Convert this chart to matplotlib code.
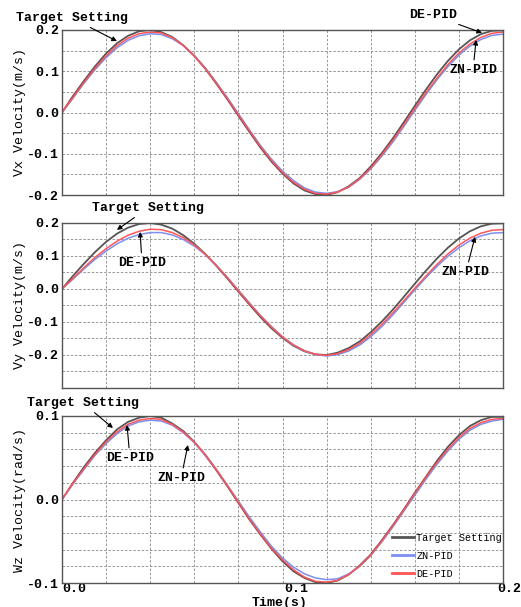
import matplotlib
matplotlib.use('Agg')
from matplotlib import pyplot as plt
from matplotlib.ticker import MultipleLocator, FixedLocator, FormatStrFormatter
from matplotlib.transforms import ScaledTranslation

# time axis, sampled every 5 ms
t = [i * 0.005 for i in range(41)]

# Vx velocity (m/s)
vx_target = [0, .040, .077, .112, .143, .168, .186, .197, .200, .195, .183, .163, .137, .106, .070, .032,
             -.008, -.047, -.085, -.119, -.148, -.172, -.189, -.198, -.200, -.193, -.179, -.159, -.131,
             -.099, -.063, -.024, .016, .055, .092, .125, .153, .175, .190, .198, .199]
vx_de = [0, .036, .073, .107, .137, .162, .180, .191, .195, .193, .182, .163, .138, .107, .072, .034,
         -.005, -.044, -.082, -.116, -.145, -.169, -.186, -.196, -.198, -.193, -.181, -.161, -.135,
         -.103, -.068, -.030, .009, .047, .083, .116, .144, .166, .182, .192, .195]
vx_zn = [0, .035, .071, .104, .133, .157, .175, .186, .191, .189, .179, .162, .138, .108, .073, .036,
         -.003, -.042, -.080, -.113, -.142, -.165, -.183, -.193, -.196, -.192, -.181, -.162, -.137,
         -.106, -.072, -.034, .005, .043, .079, .111, .139, .161, .177, .187, .190]

# Vy velocity (m/s)
vy_target = [0, .040, .077, .112, .143, .168, .186, .197, .200, .195, .183, .163, .137, .106, .070, .032,
             -.008, -.047, -.085, -.119, -.148, -.172, -.189, -.198, -.200, -.193, -.179, -.159, -.131,
             -.099, -.063, -.024, .016, .055, .092, .125, .153, .175, .190, .198, .199]
vy_de = [0, .032, .065, .096, .122, .145, .163, .175, .181, .180, .171, .156, .134, .106, .072, .035,
         -.005, -.044, -.081, -.115, -.145, -.169, -.187, -.198, -.201, -.196, -.184, -.165, -.139,
         -.108, -.073, -.036, .002, .039, .074, .106, .133, .154, .169, .178, .180]
vy_zn = [0, .030, .061, .090, .115, .137, .154, .165, .171, .171, .164, .150, .130, .104, .071, .035,
         -.004, -.042, -.080, -.114, -.145, -.170, -.188, -.199, -.203, -.199, -.188, -.170, -.145,
         -.114, -.079, -.041, -.003, .034, .068, .099, .125, .146, .161, .169, .171]

# Wz velocity (rad/s)
wz_target = [0, .020, .039, .056, .071, .084, .093, .098, .100, .098, .091, .082, .069, .053, .035, .016,
             -.004, -.024, -.042, -.059, -.074, -.086, -.094, -.099, -.100, -.097, -.090, -.079, -.066,
             -.049, -.031, -.012, .008, .027, .046, .063, .077, .088, .095, .099, .099]
wz_de = [0, .019, .037, .054, .069, .081, .090, .095, .097, .096, .090, .081, .069, .054, .036, .017,
         -.003, -.023, -.041, -.058, -.072, -.084, -.093, -.098, -.099, -.097, -.090, -.080, -.067,
         -.050, -.032, -.013, .007, .026, .044, .060, .074, .085, .092, .096, .097]
wz_zn = [0, .019, .036, .053, .067, .079, .088, .093, .095, .094, .089, .080, .068, .053, .036, .017,
         -.002, -.021, -.039, -.056, -.070, -.081, -.089, -.094, -.096, -.095, -.089, -.080, -.067,
         -.051, -.033, -.014, .005, .024, .042, .058, .072, .083, .090, .094, .096]

labels = ['Target Setting', 'ZN-PID', 'DE-PID']
ylabels = ['Vx Velocity(m/s)', 'Vy Velocity(m/s)', 'Wz Velocity(rad/s)']
xticks = [0.0, 0.1, 0.2]
xtick_labels = ['0.0', '0.1', '0.2']
yticks = [[-0.2, -0.1, 0.0, 0.1, 0.2], [-0.2, -0.1, 0.0, 0.1, 0.2], [-0.1, 0.0, 0.1]]

FONT = 'Liberation Mono'
FS = 9.5
C_T, C_ZN, C_DE = '#555555', '#7d8ff0', '#ff5555'

plt.rcParams['font.family'] = FONT
plt.rcParams['font.size'] = FS
plt.rcParams['font.weight'] = 'bold'

fig = plt.figure(figsize=(5.21, 6.07), dpi=100)
W, H = 521.0, 607.0


def make_ax(top_px, bot_px):
    return fig.add_axes([62 / W, 1 - bot_px / H, 441 / W, (bot_px - top_px) / H])


axes = [make_ax(30, 195), make_ax(223, 388), make_ax(416, 583)]
series = [(vx_target, vx_zn, vx_de), (vy_target, vy_zn, vy_de), (wz_target, wz_zn, wz_de)]
ylims = [(-0.2, 0.2), (-0.3, 0.2), (-0.1, 0.1)]
yminor = [0.05, 0.05, 0.02]

for ax, (yt, yz, yd), yl, lim, tks, mn in zip(axes, series, ylabels, ylims, yticks, yminor):
    ax.plot(t, yt, color=C_T, lw=1.3, label=labels[0])
    ax.plot(t, yz, color=C_ZN, lw=1.1, label=labels[1])
    ax.plot(t, yd, color=C_DE, lw=1.1, label=labels[2])
    ax.set_xlim(0, 0.2)
    ax.set_ylim(*lim)
    ax.xaxis.set_major_locator(FixedLocator(xticks))
    ax.xaxis.set_minor_locator(MultipleLocator(0.02))
    ax.yaxis.set_major_locator(FixedLocator(tks))
    ax.yaxis.set_minor_locator(MultipleLocator(mn))
    ax.grid(True, which='both', color='#888888', ls=(0, (3, 2)), lw=0.6)
    ax.tick_params(which='both', direction='in', length=0, pad=2, labelsize=FS)
    ax.yaxis.set_major_formatter(FormatStrFormatter('%.1f'))
    ax.set_ylabel(yl, fontsize=FS)
    ax.yaxis.set_label_coords(-0.082, 0.5)
    for s in ax.spines.values():
        s.set_color('#555555')
        s.set_linewidth(1.0)
    ax.set_xticklabels([])

# x tick labels only on bottom panel
axb = axes[2]
axb.set_xticks(xticks)
axb.set_xticklabels(xtick_labels)
axb.tick_params(axis='x', pad=0)
offsets = [12, 14, 6]
for lab, dx in zip(axb.get_xticklabels(), offsets):
    lab.set_transform(lab.get_transform() + ScaledTranslation(dx / 100, 0, fig.dpi_scale_trans))
fig.text(280 / W, 1 - 597 / H, 'Time(s)', ha='center', va='top', fontsize=FS)

arrow = dict(arrowstyle='-|>', color='black', lw=0.8, mutation_scale=7, shrinkA=1, shrinkB=0)


def note(ax, txt, tip, pos):
    ax.annotate(txt, xy=tip, xytext=pos, ha='center', va='center', fontsize=FS,
                arrowprops=arrow, annotation_clip=False)


note(axes[0], 'Target Setting', (0.0249, 0.173), (0.0045, 0.229))
note(axes[0], 'DE-PID', (0.1905, 0.193), (0.1683, 0.236))
note(axes[0], 'ZN-PID', (0.1878, 0.176), (0.1864, 0.103))

note(axes[1], 'Target Setting', (0.0249, 0.179), (0.039, 0.2455))
note(axes[1], 'DE-PID', (0.0354, 0.173), (0.0363, 0.079))
note(axes[1], 'ZN-PID', (0.1873, 0.158), (0.1832, 0.0515))

note(axes[2], 'Target Setting', (0.0231, 0.0856), (0.0095, 0.1156))
note(axes[2], 'DE-PID', (0.0295, 0.0892), (0.0308, 0.0497))
note(axes[2], 'ZN-PID', (0.0571, 0.0653), (0.054, 0.0257))

leg = axb.legend(loc='lower right', bbox_to_anchor=(1.0 + 3 / 441, 0.0), frameon=False,
                 prop={'size': 7.3, 'weight': 'normal'},
                 handlelength=2.2, handletextpad=0.2, labelspacing=0.8, borderaxespad=0.0, borderpad=0.4)
for ln in leg.get_lines():
    ln.set_linewidth(2.0)

fig.savefig('out.png', dpi=100)
